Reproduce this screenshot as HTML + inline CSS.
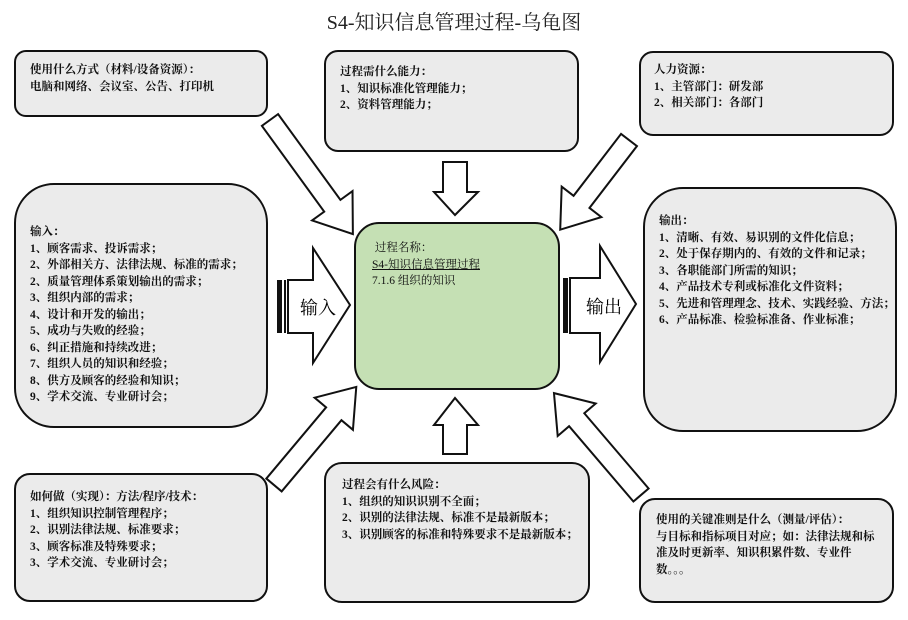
<!DOCTYPE html>
<html><head><meta charset="utf-8"><style>
body{margin:0;width:908px;height:620px;background:#fff;position:relative;overflow:hidden;font-family:"Liberation Serif","Noto Serif CJK SC",serif;}
.b{position:absolute;background:#ebebeb;border:2px solid #111;box-sizing:border-box;}
.t{position:absolute;font-size:11.5px;line-height:16.5px;color:#111;white-space:nowrap;font-weight:bold;}
svg{position:absolute;left:0;top:0;}
</style></head><body>
<div style="position:absolute;left:0;width:908px;top:6px;text-align:center;font-size:20px;color:#222;">S4-知识信息管理过程-乌龟图</div>

<div class="b" style="left:14px;top:50px;width:254px;height:67px;border-radius:12px;"></div>
<div class="b" style="left:324px;top:50px;width:255px;height:102px;border-radius:14px;"></div>
<div class="b" style="left:639px;top:51px;width:255px;height:85px;border-radius:14px;"></div>
<div class="b" style="left:14px;top:183px;width:254px;height:245px;border-radius:40px;"></div>
<div class="b" style="left:643px;top:187px;width:254px;height:245px;border-radius:40px;"></div>
<div class="b" style="left:14px;top:473px;width:254px;height:129px;border-radius:16px;"></div>
<div class="b" style="left:324px;top:462px;width:266px;height:141px;border-radius:18px;"></div>
<div class="b" style="left:639px;top:498px;width:255px;height:105px;border-radius:16px;"></div>
<div class="b" style="left:354px;top:222px;width:206px;height:168px;border-radius:25px;background:#c5e0b4;"></div>

<svg width="908" height="620">
<g fill="#fff" stroke="#111" stroke-width="2">
<polygon transform="translate(270,120) rotate(54)" points="0,-10 106,-10 106,-25 141,0 106,25 106,10 0,10"/>
<polygon transform="translate(629,140) rotate(127.5)" points="0,-10 78,-10 78,-25 113,0 78,25 78,10 0,10"/>
<polygon transform="translate(274,485) rotate(-50)" points="0,-10 93,-10 93,-25 128,0 93,25 93,10 0,10"/>
<polygon transform="translate(641,495) rotate(-130.5)" points="0,-10 99,-10 99,-25 134,0 99,25 99,10 0,10"/>
<polygon points="443,162 467,162 467,192 478,192 455,215 434,192 443,192"/>
<polygon points="443,454 467,454 467,425 478,425 455,398 434,425 443,425"/>
<polygon points="288,280 313,280 313,248 350,305 313,363 313,333 288,333"/>
<polygon points="570,278 600,278 600,246 636,304 600,362 600,333 570,333"/>
</g>
<rect x="277" y="280" width="5" height="53" fill="#111"/><rect x="284" y="280" width="2" height="53" fill="#111"/>
<rect x="563" y="278" width="5" height="55" fill="#111"/><rect x="569" y="278" width="2" height="55" fill="#111"/>
</svg>
<div style="position:absolute;left:300px;top:294px;font-size:18px;">输入</div>
<div style="position:absolute;left:586px;top:293px;font-size:18px;">输出</div>

<div class="t" style="left:30px;top:62px;">使用什么方式（材料/设备资源）：<br>电脑和网络、会议室、公告、打印机</div>
<div class="t" style="left:340px;top:64px;">过程需什么能力：<br>1、知识标准化管理能力；<br>2、资料管理能力；</div>
<div class="t" style="left:654px;top:62px;">人力资源：<br>1、主管部门：研发部<br>2、相关部门：各部门</div>
<div class="t" style="left:30px;top:224px;">输入：<br>1、顾客需求、投诉需求；<br>2、外部相关方、法律法规、标准的需求；<br>2、质量管理体系策划输出的需求；<br>3、组织内部的需求；<br>4、设计和开发的输出；<br>5、成功与失败的经验；<br>6、纠正措施和持续改进；<br>7、组织人员的知识和经验；<br>8、供方及顾客的经验和知识；<br>9、学术交流、专业研讨会；</div>
<div class="t" style="left:372px;top:240px;font-weight:normal;">&nbsp;过程名称：<br><u>S4-知识信息管理过程</u><br>7.1.6 组织的知识</div>
<div class="t" style="left:659px;top:213px;">输出：<br>1、清晰、有效、易识别的文件化信息；<br>2、处于保存期内的、有效的文件和记录；<br>3、各职能部门所需的知识；<br>4、产品技术专利或标准化文件资料；<br>5、先进和管理理念、技术、实践经验、方法；<br>6、产品标准、检验标准备、作业标准；</div>
<div class="t" style="left:30px;top:489px;">如何做（实现）：方法/程序/技术：<br>1、组织知识控制管理程序；<br>2、识别法律法规、标准要求；<br>3、顾客标准及特殊要求；<br>3、学术交流、专业研讨会；</div>
<div class="t" style="left:342px;top:477px;">过程会有什么风险：<br>1、组织的知识识别不全面；<br>2、识别的法律法规、标准不是最新版本；<br>3、识别顾客的标准和特殊要求不是最新版本；</div>
<div class="t" style="left:656px;top:512px;">使用的关键准则是什么（测量/评估）：<br>与目标和指标项目对应；如：法律法规和标<br>准及时更新率、知识积累件数、专业件<br>数。。。</div>
</body></html>
